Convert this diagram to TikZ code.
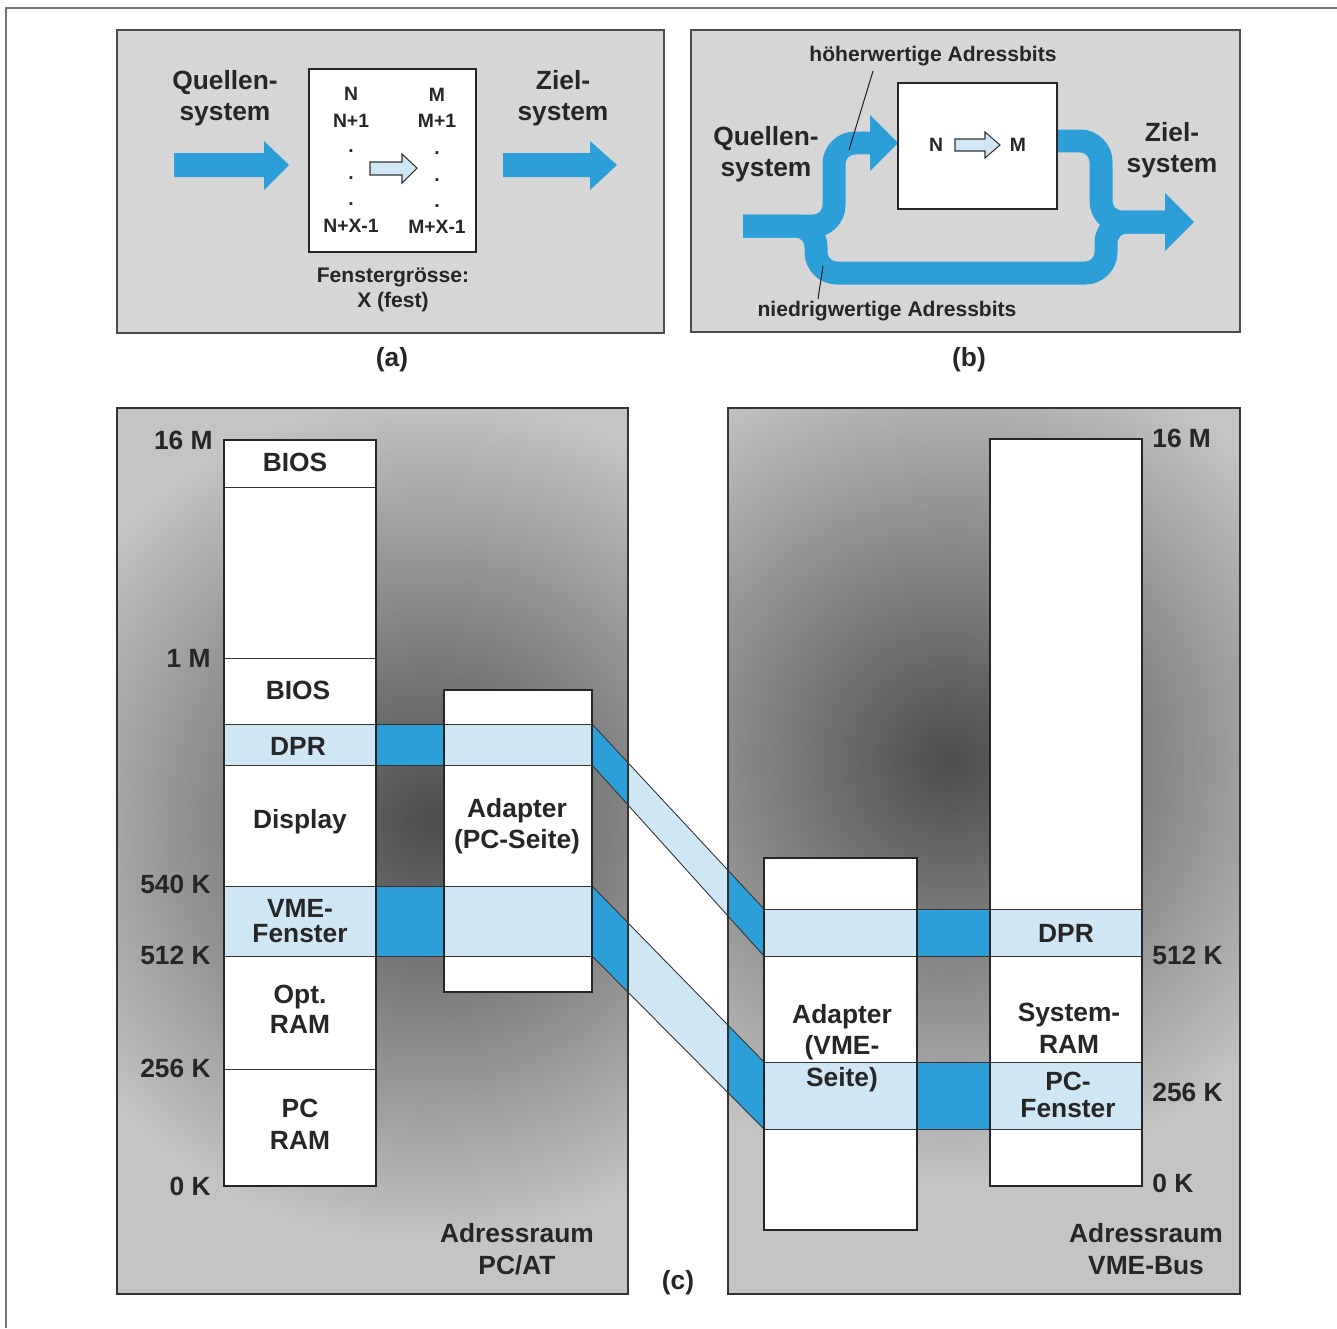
\documentclass[tikz,border=0pt]{standalone}
\usepackage{fontspec}
\setmainfont{Liberation Sans}
\usetikzlibrary{positioning}

\definecolor{flowblue}{HTML}{2C9FD9}
\definecolor{paleblue}{HTML}{CFE6F5}
\definecolor{panelgray}{HTML}{D6D6D6}
\definecolor{ink}{HTML}{262626}

\tikzset{
  bigtxt/.style={font=\fontsize{15}{18}\selectfont\bfseries, text=ink, align=center, inner sep=0pt},
  smalltxt/.style={font=\fontsize{12}{14.2}\selectfont\bfseries, text=ink, align=center, inner sep=0pt},
  celltxt/.style={font=\fontsize{11}{13}\selectfont\bfseries, text=ink, inner sep=0pt},
  panel/.style={fill=panelgray, draw=black!70, line width=0.9pt},
  memcol/.style={draw=black!85, line width=1.4pt},
  sep/.style={draw=black!80, line width=0.5pt},
  flowline/.style={draw=flowblue, line width=0.46cm, rounded corners=0.42cm},
  minibox/.style={draw=black!80, fill=paleblue, line width=0.6pt}
}

\begin{document}
\begin{tikzpicture}[x=0.02cm, y=-0.02cm]
    \useasboundingbox (0,0) rectangle (1337,1328);
    %% page frame
    \draw[black!55, line width=0.7pt] (6,1328) -- (6,8) -- (1337,8);

    %% (a) fixed window
    \draw[panel] (117,30) rectangle (664,333);
    \node[bigtxt] (srcA) at (225,98) {Quellen-\\system};
    \node[bigtxt] (dstA) at (563,98) {Ziel-\\system};
    \fill[flowblue] (174,153) -- (264,153) -- (264,141) -- (289,165) -- (264,190) -- (264,177) -- (174,177) -- cycle;
    \fill[flowblue] (503,153) -- (590,153) -- (590,141) -- (617,165) -- (590,190) -- (590,177) -- (503,177) -- cycle;
    \draw[memcol, fill=white] (309,69) rectangle (476,252);
    \node[celltxt] (nA) at (351,94) {N};
    \node[celltxt] (nOneA) at (351,121) {N+1};
    \node[celltxt] (nLastA) at (351,226) {N+X-1};
    \node[celltxt] (mA) at (437,95) {M};
    \node[celltxt] (mOneA) at (437,121) {M+1};
    \node[celltxt] (mLastA) at (437,227) {M+X-1};
    \foreach \i/\yy in {1/152,2/179,3/205} {
      \node[celltxt, anchor=base] (dotN\i) at (351,\yy) {.};
      \node[celltxt, anchor=base] (dotM\i) at (437,\yy+2) {.};
    }
    \draw[minibox] (370,162) -- (402,162) -- (402,154) -- (417,168) -- (402,183) -- (402,175) -- (370,175) -- cycle;
    \node[smalltxt] (winA) at (393,290) {Fenstergrösse:\\X (fest)};
    \node[bigtxt] (capA) at (392,360) {(a)};

    %% (b) split address bits
    \draw[panel] (691,30) rectangle (1240,332);
    \draw[flowline] (743,226) -- (834,226) -- (834,143) -- (874,143);
    \draw[flowline] (743,226) -- (816,226) -- (816,273) -- (1106,273) -- (1106,222) -- (1168,222);
    \draw[flowline] (1050,141) -- (1101,141) -- (1101,222) -- (1168,222);
    \fill[flowblue] (870,115) -- (898,143) -- (870,171) -- cycle;
    \fill[flowblue] (1165,193) -- (1194,222) -- (1165,251) -- cycle;
    \draw[memcol, fill=white] (898,83) rectangle (1057,209);
    \node[celltxt] (nB) at (936,145) {N};
    \node[celltxt] (mB) at (1018,145) {M};
    \draw[minibox] (955,139) -- (985,139) -- (985,132) -- (1000,145) -- (985,158) -- (985,151) -- (955,151) -- cycle;
    \node[bigtxt] (srcB) at (766,154) {Quellen-\\system};
    \node[bigtxt] (dstB) at (1172,150) {Ziel-\\system};
    \node[smalltxt] (hiB) at (933,56) {höherwertige Adressbits};
    \node[smalltxt] (loB) at (887,311) {niedrigwertige Adressbits};
    \coordinate (hiFoot) at (873,71);
    \coordinate (hiTip) at (849,150);
    \coordinate (loTip) at (823,266);
    \coordinate (loFoot) at (818,299);
    \draw[ink, line width=0.6pt] (hiFoot) -- (hiTip);
    \draw[ink, line width=0.6pt] (loTip) -- (loFoot);
    \node[bigtxt] (capB) at (969,360) {(b)};

    %% (c) address spaces, shaded backgrounds
    \begin{scope}
      \clip (117,408) rectangle (628,1294);
      \fill[black!23] (117,408) rectangle (628,1294);
      \shade[inner color=black!70, outer color=black!23] (430,820) circle[radius=8.5cm];
    \end{scope}
    \begin{scope}
      \clip (728,408) rectangle (1240,1294);
      \fill[black!23] (728,408) rectangle (1240,1294);
      \shade[inner color=black!70, outer color=black!23] (950,760) circle[radius=8.5cm];
    \end{scope}

    %% memory columns
    \fill[white] (224,440) rectangle (376,1186);
    \fill[white] (444,690) rectangle (592,992);
    \fill[white] (764,858) rectangle (917,1230);
    \fill[white] (990,439) rectangle (1142,1186);

    %% windows across the columns
    \foreach \ta/\tb/\xa/\xb/\xc/\xd in {724/765/224/376/444/592, 886/956/224/376/444/592,
                                         909/956/764/917/990/1142, 1062/1129/764/917/990/1142} {
      \fill[paleblue] (\xa,\ta) rectangle (\xd,\tb);
      \fill[flowblue] (\xb,\ta) rectangle (\xc,\tb);
      \draw[sep] (\xa,\ta) -- (\xd,\ta) (\xa,\tb) -- (\xd,\tb);
    }
    %% slanted mapping bands
    \foreach \la/\lb/\ra/\rb in {724/765/909/956, 886/956/1062/1129} {
      \fill[paleblue] (592,\la) -- (764,\ra) -- (764,\rb) -- (592,\lb) -- cycle;
      \begin{scope}
        \clip (592,\la) -- (764,\ra) -- (764,\rb) -- (592,\lb) -- cycle;
        \fill[flowblue] (592,700) rectangle (628,1200);
        \fill[flowblue] (728,700) rectangle (764,1200);
      \end{scope}
      \draw[sep] (592,\la) -- (764,\ra) (592,\lb) -- (764,\rb);
    }
    \draw[sep] (224,487) -- (376,487) (224,658) -- (376,658) (224,1069) -- (376,1069);

    \draw[memcol] (224,440) rectangle (376,1186);
    \draw[memcol] (444,690) rectangle (592,992);
    \draw[memcol] (764,858) rectangle (917,1230);
    \draw[memcol] (990,439) rectangle (1142,1186);
    \draw[black!80, line width=0.9pt] (117,408) rectangle (628,1294);
    \draw[black!80, line width=0.9pt] (728,408) rectangle (1240,1294);

    %% region names
    \node[bigtxt] (biosHi) at (295,462) {BIOS};
    \node[bigtxt] (biosLo) at (298,690) {BIOS};
    \node[bigtxt] (dprPC) at (298,746) {DPR};
    \node[bigtxt] (disp) at (300,822) {Display};
    \node[bigtxt] (vmeWin) at (300,921) {VME-\\[-4pt]Fenster};
    \node[bigtxt] (optRam) at (300,1009) {Opt.\\[-1pt]RAM};
    \node[bigtxt] (pcRam) at (300,1124) {PC\\RAM};
    \node[bigtxt] (adPC) at (517,826) {Adapter\\(PC-Seite)};
    \node[bigtxt] (adVME) at (842,1048) {Adapter\\(VME-\\Seite)};
    \node[bigtxt] (dprVME) at (1066,933) {DPR};
    \node[bigtxt] (sysRam) at (1069,1028) {System-\\RAM};
    \node[bigtxt] (pcWin) at (1068,1095) {PC-\\[-3pt]Fenster};

    %% addresses
    \node[bigtxt, anchor=east] (l16M) at (213,440) {16 M};
    \node[bigtxt, anchor=east] (l1M) at (211,658) {1 M};
    \node[bigtxt, anchor=east] (l540K) at (211,884) {540 K};
    \node[bigtxt, anchor=east] (l512K) at (211,955) {512 K};
    \node[bigtxt, anchor=east] (l256K) at (211,1068) {256 K};
    \node[bigtxt, anchor=east] (l0K) at (211,1186) {0 K};
    \node[bigtxt, anchor=west] (r16M) at (1152,438) {16 M};
    \node[bigtxt, anchor=west] (r512K) at (1152,955) {512 K};
    \node[bigtxt, anchor=west] (r256K) at (1152,1092) {256 K};
    \node[bigtxt, anchor=west] (r0K) at (1152,1183) {0 K};

    \node[bigtxt] (spacePC) at (517,1249) {Adressraum\\PC/AT};
    \node[bigtxt] (spaceVME) at (1146,1249) {Adressraum\\VME-Bus};
    \node[bigtxt] (capC) at (678,1283) {(c)};
\end{tikzpicture}
\end{document}
